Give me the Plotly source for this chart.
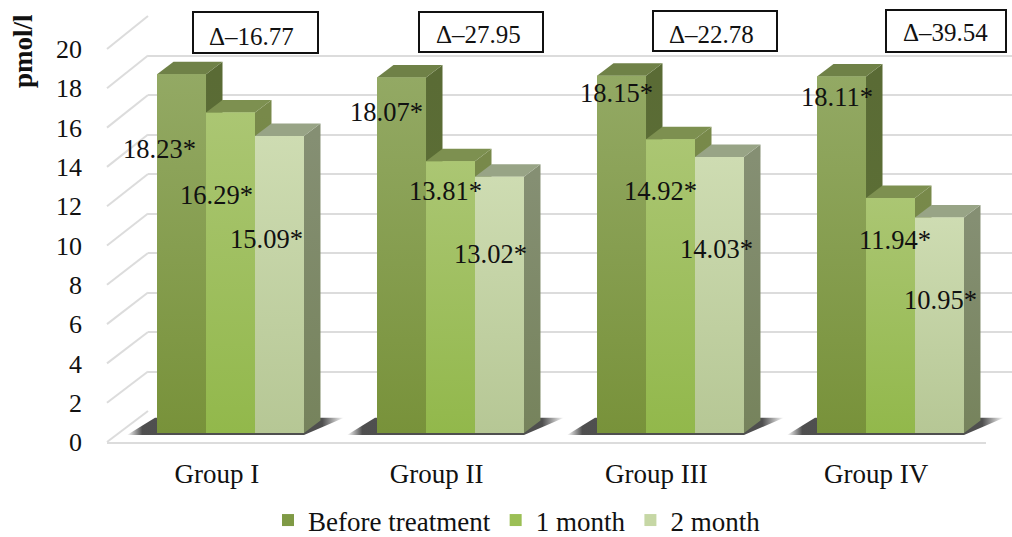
import plotly.graph_objects as go

# Measurements
groups = ["Group I", "Group II", "Group III", "Group IV"]
before_treatment = [18.23, 18.07, 18.15, 18.11]
one_month = [16.29, 13.81, 14.92, 11.94]
two_month = [15.09, 13.02, 14.03, 10.95]
deltas = ["Δ–16.77", "Δ–27.95", "Δ–22.78", "Δ–39.54"]
y_ticks = list(range(0, 21, 2))

series = [
    dict(name="Before treatment", values=before_treatment, solid="#7f9a45",
         front=["#78923a", "#93a964"], side=["#5e7336", "#5a6b35"], top="#6f8147"),
    dict(name="1 month", values=one_month, solid="#9bbf55",
         front=["#92b84b", "#abc673"], side=["#6f8a3c", "#78894a"], top="#7d9050"),
    dict(name="2 month", values=two_month, solid="#c6d7a5",
         front=["#b6c795", "#cedcb2"], side=["#76835c", "#858f73"], top="#98a486"),
]

# Page geometry of the pseudo-3D box
W, H = 1012, 537
FONT = "Liberation Serif"
GRID = "#dcdcdc"
CAT_PX = 220
DEPTH_X_PX, DEPTH_Y_PX = 16.5, 12.5
UNIT_PX = 19.68
BARGAP = 0.332
depth_x = DEPTH_X_PX / CAT_PX
depth_y = DEPTH_Y_PX / UNIT_PX
bar_w = (1 - BARGAP) / 3


def dom_x(a, b):
    return [a / W, b / W]


def dom_y(page_bottom, page_top):
    return [1 - page_bottom / H, 1 - page_top / H]


def px(v):
    return v / W


def py(v):
    return 1 - v / H


fig = go.Figure()

# Anchors for the back wall and front axis planes
fig.add_trace(go.Scatter(x=[0], y=[0], xaxis="x", yaxis="y", mode="markers", opacity=0,
                         showlegend=False, hoverinfo="skip"))
fig.add_trace(go.Scatter(x=[0], y=[0], xaxis="x2", yaxis="y2", mode="markers", opacity=0,
                         showlegend=False, hoverinfo="skip"))

# Base bars: these carry the values and the legend entries
for s in series:
    fig.add_trace(go.Bar(x=list(range(4)), y=s["values"], name=s["name"], xaxis="x3", yaxis="y3",
                         marker=dict(color=s["solid"], line=dict(width=0)), hoverinfo="skip"))


def poly(xs, ys, **kw):
    fig.add_trace(go.Scatter(x=xs + xs[:1], y=ys + ys[:1], xaxis="x3", yaxis="y3", mode="lines",
                             line=dict(width=0), fill="toself", showlegend=False,
                             hoverinfo="skip", **kw))


# Soft floor shadows under each group
for g in range(4):
    left = g - 1.5 * bar_w
    right = g + 1.5 * bar_w
    x0 = left - 30 / CAT_PX
    x1 = right + 40 / CAT_PX
    poly([x0, left - 2 / CAT_PX, x1, right, left],
         [-0.1, 0.78, 0.78, -0.1, -0.1],
         fillgradient=dict(type="horizontal", start=x0, stop=x1,
                           colorscale=[[0, "rgba(70,70,70,0)"], [0.07, "rgba(70,70,70,0.95)"],
                                       [0.9, "rgba(70,70,70,0.95)"], [1, "rgba(70,70,70,0)"]]))

# Bar side, top and front faces, back to front
for i, s in enumerate(series):
    for g, v in enumerate(s["values"]):
        l = g + (i - 1.5) * bar_w
        r = l + bar_w
        poly([r, r + depth_x, r + depth_x, r], [0, depth_y, v + depth_y, v],
             fillgradient=dict(type="vertical", start=0, stop=v,
                               colorscale=[[0, s["side"][0]], [1, s["side"][1]]]))
        poly([l, l + depth_x, r + depth_x, r], [v, v + depth_y, v + depth_y, v],
             fillcolor=s["top"])
        poly([l, r, r, l], [0, 0, v, v],
             fillgradient=dict(type="vertical", start=0, stop=v,
                               colorscale=[[0, s["front"][0]], [1, s["front"][1]]]))

# Left wall diagonals joining the front ticks to the back grid lines
shapes = []
for t in y_ticks:
    shapes.append(dict(type="line", xref="paper", yref="paper", layer="below",
                       x0=px(107), x1=px(148), y0=py(442 - 19.65 * t), y1=py(411 - 19.75 * t),
                       line=dict(color=GRID, width=2)))

annotations = []

# Boxed differences above each group
box_px = [(193, 318, 12, 53), (419, 543, 12, 52), (653, 777, 11, 51), (886, 1006, 10, 52)]
delta_center_px = [(251, 36), (478, 35), (711, 35), (945, 33)]
for d, (x0, x1, y0, y1), (cx, cy) in zip(deltas, box_px, delta_center_px):
    shapes.append(dict(type="rect", xref="paper", yref="paper", layer="above",
                       x0=px(x0), x1=px(x1), y0=py(y1), y1=py(y0),
                       fillcolor="white", line=dict(color="#111111", width=2)))
    annotations.append(dict(text=d, xref="paper", yref="paper", x=px(cx), y=py(cy), showarrow=False,
                            xanchor="center", yanchor="middle", font=dict(family=FONT, size=25, color="#111111")))

# Value labels
label_px = [
    [(159, 149), (386, 112), (616, 93), (837, 97)],
    [(216, 195), (445, 191), (660, 191), (895, 240)],
    [(266, 239), (490, 254), (716, 249), (940, 300)],
]
for s, positions in zip(series, label_px):
    for v, (cx, cy) in zip(s["values"], positions):
        annotations.append(dict(text=f"{v:.2f}*", xref="paper", yref="paper", x=px(cx), y=py(cy),
                                showarrow=False, xanchor="center", yanchor="middle",
                                font=dict(family=FONT, size=26.5, color="#111111")))

annotations.append(dict(text="<b>pmol/l</b>", xref="paper", yref="paper", x=px(23), y=py(51),
                        showarrow=False, textangle=-90, xanchor="center", yanchor="middle",
                        font=dict(family=FONT, size=27, color="#111111")))

fig.update_layout(
    width=W, height=H,
    margin=dict(l=0, r=0, t=0, b=0, autoexpand=False),
    paper_bgcolor="white", plot_bgcolor="rgba(0,0,0,0)",
    barmode="group", bargap=BARGAP, bargroupgap=0,
    font=dict(family=FONT, color="#111111"),
    shapes=shapes, annotations=annotations,
    legend=dict(orientation="h", x=px(268), xanchor="left", y=py(545), yanchor="bottom",
                font=dict(family=FONT, size=27, color="#111111"), bgcolor="rgba(0,0,0,0)",
                itemclick=False, itemdoubleclick=False),
    # Back wall
    xaxis=dict(domain=dom_x(148, 1012), range=[0, 1], visible=False, anchor="y"),
    yaxis=dict(domain=dom_y(411, 16), range=[0, 20], tickvals=y_ticks, showticklabels=False,
               showgrid=True, gridcolor=GRID, gridwidth=2, zeroline=False, showline=False,
               ticks="", anchor="x"),
    # Front plane with the axis labels
    xaxis2=dict(domain=dom_x(107, 986), range=[-0.5, 3.5], tickvals=[0, 1, 2, 3], ticktext=groups,
                showgrid=False, zeroline=False, showline=True, linecolor=GRID, linewidth=2,
                ticks="", ticklabelstandoff=7, tickfont=dict(family=FONT, size=27, color="#111111"),
                anchor="y2"),
    yaxis2=dict(domain=dom_y(442, 49), range=[0, 20], tickvals=y_ticks, showgrid=False, zeroline=False,
                showline=False, ticks="", ticklabelstandoff=24,
                tickfont=dict(family=FONT, size=26, color="#111111"), anchor="x2"),
    # Plane of the bars
    xaxis3=dict(domain=dom_x(120.5, 1012), range=[-0.5, -0.5 + 891.5 / CAT_PX], visible=False, anchor="y3"),
    yaxis3=dict(domain=dom_y(433 + UNIT_PX, 433 - 21 * UNIT_PX), range=[-1, 21], visible=False, anchor="x3"),
)

fig.write_html("out.html")
